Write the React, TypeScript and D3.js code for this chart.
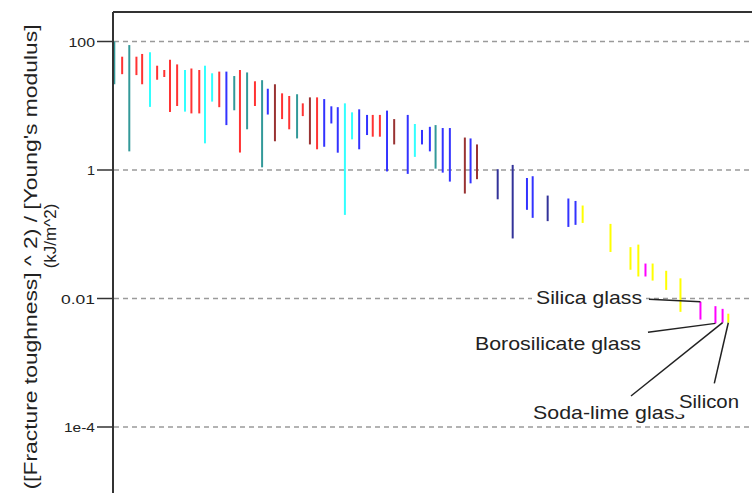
import React from "react";
import * as d3 from "d3";

// ---- data ----
const positions = [
  0, 1.1, 2.1, 3.1, 3.9, 5.0, 6.0, 7.0, 7.8, 8.8,
  9.9, 10.8, 11.9, 12.7, 13.7, 14.7, 15.7, 16.8, 17.6, 18.6,
  19.7, 20.7, 21.5, 22.5, 23.5, 24.5, 25.6, 26.4, 27.4, 28.4,
  29.4, 30.4, 31.3, 32.3, 33.3, 34.3, 35.4, 36.2, 37.2, 38.2,
  39.2, 41.1, 42.1, 43.1, 44.2, 45.0, 46.0, 47.0, 49.1, 49.9,
  50.8, 53.7, 55.8, 57.8, 58.6, 60.7, 63.6, 64.6, 65.6, 69.5,
  72.3, 73.4, 74.4, 75.4, 77.3, 79.3, 82.1, 84.2, 85.2, 86.0,
];
const highs = [
  100, 58, 88, 58, 64, 68, 42, 36, 52, 44,
  36, 38, 36, 42, 32, 34, 34, 29, 36, 33,
  24, 25, 18.4, 21.6, 15.6, 14.2, 15.1, 10.9, 13.5, 13.5,
  12.7, 9.8, 9.5, 10.9, 7.9, 8.8, 7.2, 7.2, 7.2, 8.4,
  6.2, 7.2, 5.2, 4.2, 4.7, 5.0, 4.5, 4.5, 3.2, 3.1,
  2.5, 1.03, 1.2, 0.75, 0.8, 0.4, 0.36, 0.33, 0.28, 0.145,
  0.063, 0.069, 0.035, 0.035, 0.027, 0.0206, 0.0089, 0.0076, 0.0069, 0.0058,
];
const lows = [
  21.6, 31, 1.95, 30, 21.6, 9.6, 25.4, 28, 8.0, 9.9,
  8.1, 7.6, 7.6, 2.6, 11.6, 9.5, 5.0, 8.5, 1.87, 4.3,
  9.9, 1.1, 7.3, 2.8, 6.2, 4.3, 3.1, 6.9, 2.5, 2.1,
  2.3, 5.3, 1.86, 0.2, 3.0, 2.1, 3.5, 3.3, 3.3, 0.95,
  2.5, 0.87, 1.6, 2.5, 1.95, 1.05, 0.91, 0.66, 0.43, 0.62,
  0.72, 0.35, 0.086, 0.24, 0.18, 0.16, 0.13, 0.14, 0.15, 0.053,
  0.028, 0.022, 0.022, 0.019, 0.0136, 0.0062, 0.0047, 0.0041, 0.0042, 0.0042,
];
const groups = [
  "T", "R", "T", "R", "R", "C", "R", "R", "R", "R",
  "C", "R", "R", "C", "C", "R", "B", "T", "R", "T",
  "R", "T", "B", "D", "R", "R", "T", "R", "D", "R",
  "B", "B", "B", "C", "C", "B", "B", "R", "R", "B",
  "D", "B", "C", "B", "B", "T", "B", "B", "D", "B",
  "D", "N", "N", "B", "B", "N", "B", "B", "Y", "Y",
  "Y", "Y", "M", "Y", "Y", "Y", "M", "M", "M", "Y",
];
const tickValues = [100, 1, 0.01, 1e-4];
const tickLabels = ["100", "1", "0.01", "1e-4"];
const titleLines = ["([Fracture toughness] ^ 2) / [Young's modulus]", "(kJ/m^2)"];
const labelTexts = ["Silica glass", "Borosilicate glass", "Soda-lime glass", "Silicon"];
const labelTargets = [66, 67, 68, 69]; // bar indices
const labelTargetEnd = ["high", "low", "low", "low"];

// ---- styling / layout ----
const palette: Record<string, string> = {
  T: "#339999",
  R: "#ff3333",
  C: "#33ffff",
  B: "#3333ff",
  D: "#993333",
  N: "#333399",
  Y: "#ffff00",
  M: "#ff00ff",
};
const FONT = "'Liberation Sans', Arial, Helvetica, sans-serif";
const W = 752;
const H = 493;
const left = 113;
const top = 12;
const tickLabelWidths = [26.5, 8, 34, 31];

// label layout: text x, baseline y, width, bg box, leader start
const labelLayout = [
  { x: 536, y: 304, w: 106, box: [532, 288, 114, 20], lx: 649, ly: 299.3 },
  { x: 475, y: 350, w: 166, box: [471, 334, 174, 20], lx: 648, ly: 332.3 },
  { x: 533, y: 418.7, w: 152, box: [529, 401, 158, 22], lx: 631, ly: 396 },
  { x: 679, y: 408, w: 60, box: [675, 386, 67, 28.5], lx: 714.3, ly: 383.3 },
];

export default function App() {
  const x = d3.scaleLinear().domain([0, 86]).range([114.3, 728.3]);
  const y = d3.scaleLog().domain([1e-4, 100]).range([427, 41.5]);

  return (
    <svg
      width={W}
      height={H}
      style={{ position: "absolute", left: 0, top: 0, background: "#fff" }}
      fontFamily={FONT}
    >
      <rect x={0} y={0} width={W} height={H} fill="#fff" />
      {/* gridlines */}
      {tickValues.map((v, i) => (
        <line
          key={"g" + i}
          x1={left + 1}
          x2={W}
          y1={y(v)}
          y2={y(v)}
          stroke="#9a9a9a"
          strokeWidth={1.5}
          strokeDasharray="5,4"
        />
      ))}
      {/* ticks and labels */}
      {tickValues.map((v, i) => (
        <g key={"t" + i}>
          <line x1={97} x2={left} y1={y(v)} y2={y(v)} stroke="#333" strokeWidth={1.5} />
          <text
            x={95}
            y={y(v) + 5}
            textAnchor="end"
            fontSize={12.5}
            fill="#222"
            textLength={tickLabelWidths[i]}
            lengthAdjust="spacingAndGlyphs"
          >
            {tickLabels[i]}
          </text>
        </g>
      ))}
      {/* bars */}
      {positions.map((p, i) => (
        <line
          key={"b" + i}
          x1={x(p)}
          x2={x(p)}
          y1={y(highs[i])}
          y2={y(lows[i])}
          stroke={palette[groups[i]]}
          strokeWidth={2}
        />
      ))}
      {/* annotations */}
      {labelTexts.map((t, i) => {
        const L = labelLayout[i];
        const bi = labelTargets[i];
        const tx = x(positions[bi]);
        const ty = y(labelTargetEnd[i] === "high" ? highs[bi] : lows[bi]);
        return (
          <g key={"l" + i}>
            <rect x={L.box[0]} y={L.box[1]} width={L.box[2]} height={L.box[3]} fill="#fff" />
            <text x={L.x} y={L.y} fontSize={19} fill="#222" textLength={L.w} lengthAdjust="spacingAndGlyphs">
              {t}
            </text>
            <line x1={L.lx} y1={L.ly} x2={tx} y2={ty} stroke="#222" strokeWidth={1.5} />
          </g>
        );
      })}
      {/* frame */}
      <line x1={left} x2={W} y1={top} y2={top} stroke="#333" strokeWidth={2} />
      <line x1={left} x2={left} y1={top} y2={H} stroke="#333" strokeWidth={2} />
      {/* axis title */}
      <text
        transform="translate(37,257) rotate(-90)"
        textAnchor="middle"
        fontSize={17.5}
        fill="#222"
        textLength={465}
        lengthAdjust="spacingAndGlyphs"
      >
        {titleLines[0]}
      </text>
      <text transform="translate(55.5,236) rotate(-90)" textAnchor="middle" fontSize={17} fill="#222">
        {titleLines[1]}
      </text>
    </svg>
  );
}
